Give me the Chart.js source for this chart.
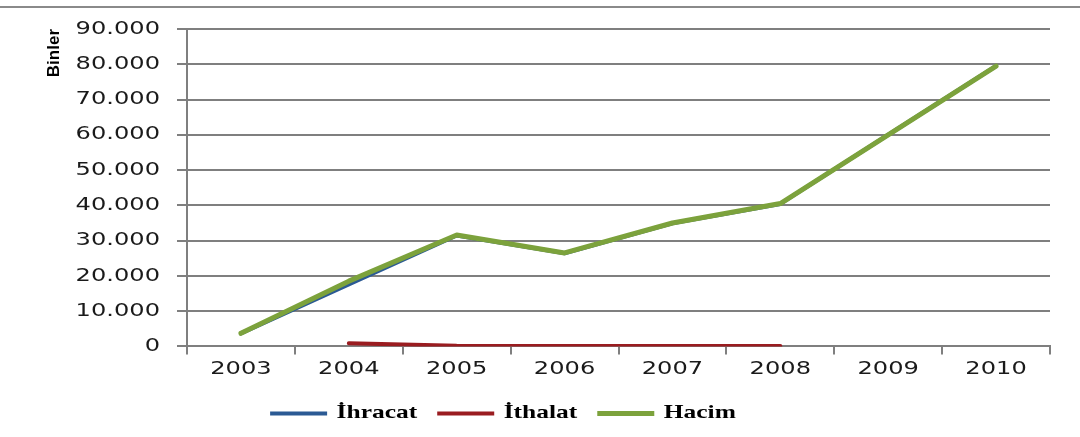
<!DOCTYPE html>
<html>
<head>
<meta charset="utf-8">
<script src="https://cdn.jsdelivr.net/npm/chart.js@4.4.1/dist/chart.umd.min.js"></script>
<style>
    body { margin: 0; background: #fff; }
    #wrap { position: relative; width: 1080px; height: 437px; }
    #topRule { position: absolute; left: 0; top: 6px; width: 1080px; border-top: 2px solid #8a8a8a; }
</style>
</head>
<body>
<div id="wrap">
    <canvas id="tradeChart" width="1080" height="437"></canvas>
    <div id="topRule"></div>
</div>
<script>
const years = ['2003', '2004', '2005', '2006', '2007', '2008', '2009', '2010'];
const ihracat = [3700, 17600, 31450, 26400, 34900, 40400, 60000, 79500];
const ithalat = [null, 900, 150, 100, 100, 100, null, null];
const hacim = [3700, 18500, 31600, 26500, 35000, 40500, 60000, 79500];
const yTicks = [0, 10000, 20000, 30000, 40000, 50000, 60000, 70000, 80000, 90000];

const gridGray = '#7f7f7f';
const textStretch = 1.34;

// the source picture is stretched sideways, so stretch the text the same way
function patchStretch(ctx) {
    const fill = ctx.fillText.bind(ctx);
    const measure = ctx.measureText.bind(ctx);
    const factor = () => ctx.font.includes('Liberation Sans') ? 1 : textStretch;
    ctx.fillText = (t, x, y) => {
        const k = factor();
        ctx.save();
        ctx.translate(x, y);
        ctx.scale(k, 1);
        fill(t, 0, 0);
        ctx.restore();
    };
    ctx.measureText = t => {
        const m = measure(t);
        const k = factor();
        return {
            width: m.width * k,
            actualBoundingBoxAscent: m.actualBoundingBoxAscent,
            actualBoundingBoxDescent: m.actualBoundingBoxDescent,
            actualBoundingBoxLeft: m.actualBoundingBoxLeft * k,
            actualBoundingBoxRight: m.actualBoundingBoxRight * k
        };
    };
}

const legendShift = {
    id: 'legendShift',
    afterLayout(chart) {
        const lg = chart.legend;
        if (!lg) return;
        const dx = 503 - (lg.left + lg.right) / 2;
        lg.left += dx;
        lg.right += dx;
    }
};

const canvas = document.getElementById('tradeChart');
const ctx = canvas.getContext('2d');
patchStretch(ctx);

new Chart(ctx, {
    type: 'line',
    data: {
        labels: years,
        datasets: [
            { label: 'İhracat', data: ihracat, borderColor: '#2b5a94', backgroundColor: '#2b5a94', borderWidth: 4, order: 2 },
            { label: 'İthalat', data: ithalat, borderColor: '#9a1c20', backgroundColor: '#9a1c20', borderWidth: 4, order: 1 },
            { label: 'Hacim', data: hacim, borderColor: '#7ca23c', backgroundColor: '#7ca23c', borderWidth: 5, order: 0 }
        ]
    },
    options: {
        responsive: false,
        animation: false,
        spanGaps: false,
        elements: {
            point: { radius: 0, hoverRadius: 0 },
            line: { tension: 0, borderCapStyle: 'round', borderJoinStyle: 'round' }
        },
        layout: { padding: { left: 40, top: 29, right: 30, bottom: 4 } },
        scales: {
            x: {
                offset: true,
                grid: { offset: true, drawOnChartArea: false, drawTicks: true, tickLength: 8, color: gridGray, lineWidth: 2 },
                border: { display: true, color: gridGray, width: 2 },
                ticks: { color: '#1a1a1a', padding: 4, font: { family: "'DejaVu Sans'", size: 18 } }
            },
            y: {
                min: 0,
                max: 90000,
                afterFit(scale) { scale.width = 147; },
                afterBuildTicks(scale) { scale.ticks = yTicks.map(v => ({ value: v })); },
                grid: { color: gridGray, lineWidth: 2, tickLength: 10 },
                border: { display: true, color: gridGray, width: 2 },
                ticks: {
                    color: '#1a1a1a',
                    padding: 17,
                    font: { family: "'DejaVu Sans'", size: 18 },
                    callback: v => v === 0 ? '0' : v.toLocaleString('de-DE')
                },
                title: {
                    display: true,
                    text: 'Binler',
                    align: 'end',
                    color: '#000',
                    padding: { top: 4, bottom: 0 },
                    font: { family: "'Liberation Sans'", size: 17, weight: 'bold' }
                }
            }
        },
        plugins: {
            tooltip: { enabled: false },
            legend: {
                position: 'bottom',
                labels: {
                    usePointStyle: true,
                    pointStyle: 'line',
                    pointStyleWidth: 57,
                    padding: 20,
                    color: '#000',
                    font: { family: "'Liberation Serif', serif", size: 19, weight: 'bold' },
                    sort: (a, b) => a.datasetIndex - b.datasetIndex
                }
            }
        }
    },
    plugins: [legendShift]
});
</script>
</body>
</html>
